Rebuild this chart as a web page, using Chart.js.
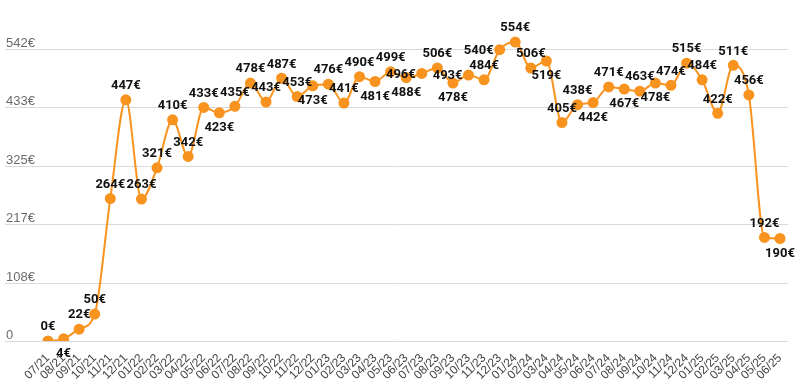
<!DOCTYPE html>
<html><head><meta charset="utf-8">
<script src="https://cdn.jsdelivr.net/npm/chart.js@4/dist/chart.umd.min.js"></script>
<style>html,body{margin:0;padding:0;background:#fff}#wrap{width:803px;height:389px}</style>
</head><body><div id="wrap"><canvas id="c" width="803" height="389"></canvas></div>
<script>
const months = ["07/21","08/21","09/21","10/21","11/21","12/21","01/22","02/22","03/22","04/22","05/22","06/22","07/22","08/22","09/22","10/22","11/22","12/22","01/23","02/23","03/23","04/23","05/23","06/23","07/23","08/23","09/23","10/23","11/23","12/23","01/24","02/24","03/24","04/24","05/24","06/24","07/24","08/24","09/24","10/24","11/24","12/24","01/25","02/25","03/25","04/25","05/25","06/25"];
const prices = [0,4,22,50,264,447,263,321,410,342,433,423,435,478,443,487,453,473,476,441,490,481,499,488,496,506,478,493,484,540,554,506,519,405,438,442,471,467,463,478,474,515,484,422,511,456,192,190];
const yTickValues = [0,108.333,216.667,325,433.333,541.667];
// label side per point: t = above, b = below, l = left
const labelSide = ["t","b","t","t","t","t","t","t","t","t","t","b","t","t","t","t","t","b","t","t","t","b","t","b","l","t","b","l","t","l","t","t","b","t","t","b","t","b","t","b","t","t","t","t","t","t","t","b"];

const euro = v => v === 0 ? '0' : Math.round(v) + '€';

const decor = {
  id: 'decor',
  beforeDatasetsDraw(chart) {
    const ctx = chart.ctx, y = chart.scales.y;
    ctx.save();
    ctx.font = '13px Arial, "Liberation Sans", sans-serif';
    ctx.textAlign = 'left';
    ctx.textBaseline = 'alphabetic';
    yTickValues.forEach(v => {
      const py = Math.round(y.getPixelForValue(v)) + 0.5;
      ctx.strokeStyle = '#d9d9d9';
      ctx.lineWidth = 1;
      ctx.beginPath(); ctx.moveTo(5, py); ctx.lineTo(788, py); ctx.stroke();
      ctx.fillStyle = '#6b6b6b';
      ctx.fillText(euro(v), 6, py - 3);
    });
    ctx.restore();
  },
  afterDatasetsDraw(chart) {
    const ctx = chart.ctx, meta = chart.getDatasetMeta(0);
    ctx.save();
    ctx.font = 'bold 13px Roboto, Arial, sans-serif';
    ctx.fillStyle = '#111';
    meta.data.forEach((pt, i) => {
      const txt = prices[i] + '€';
      const s = labelSide[i];
      if (s === 't') { ctx.textAlign = 'center'; ctx.textBaseline = 'middle'; ctx.fillText(txt, pt.x, pt.y - 14); }
      else if (s === 'b') { ctx.textAlign = 'center'; ctx.textBaseline = 'middle'; ctx.fillText(txt, pt.x, pt.y + 15); }
      else { ctx.textAlign = 'right'; ctx.textBaseline = 'middle'; ctx.fillText(txt, pt.x - 6, pt.y + 1); }
    });
    ctx.restore();
  }
};

new Chart(document.getElementById('c'), {
  type: 'line',
  data: {
    labels: months,
    datasets: [{
      data: prices,
      borderColor: '#f7931e',
      backgroundColor: '#f7931e',
      pointBackgroundColor: '#f7931e',
      pointBorderColor: '#f7931e',
      borderWidth: 2,
      pointRadius: 4.5,
      pointHoverRadius: 4.5,
      cubicInterpolationMode: 'monotone',
      fill: false
    }]
  },
  options: {
    responsive: false,
    animation: false,
    events: [],
    layout: { padding: { left: 48, right: 23, top: 3, bottom: 0 } },
    plugins: { legend: { display: false }, tooltip: { enabled: false } },
    scales: {
      x: {
        offset: false,
        grid: { display: false },
        border: { display: false },
        ticks: {
          autoSkip: false, maxRotation: 45, minRotation: 45,
          color: '#444', padding: 2,
          font: { size: 12, family: 'Arial, "Liberation Sans", sans-serif' }
        },
        afterFit(s) { s.height = 48; }
      },
      y: {
        display: false,
        min: 0, max: 620
      }
    }
  },
  plugins: [decor]
});
</script></body></html>
